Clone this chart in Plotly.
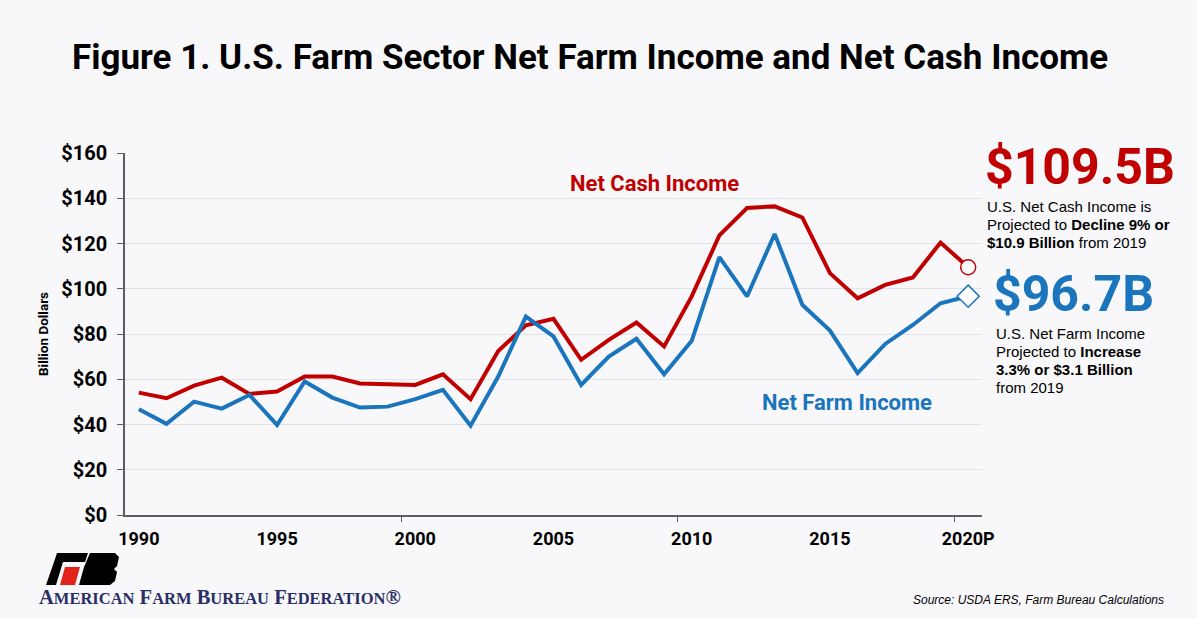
import plotly.graph_objects as go

years = list(range(1990, 2021))
net_cash_income = [54.1, 51.6, 57.2, 60.7, 53.5, 54.6, 61.2, 61.2, 58.1, 57.8,
                   57.5, 62.2, 51.2, 72.5, 83.8, 86.7, 68.6, 77.4, 85.1, 74.5,
                   96.6, 123.6, 135.7, 136.4, 131.5, 106.9, 95.8, 101.7, 105.0, 120.4,
                   109.5]
net_farm_income = [46.7, 40.3, 50.1, 47.0, 53.1, 39.8, 59.0, 51.9, 47.5, 47.9,
                   51.2, 55.3, 39.5, 61.2, 87.7, 78.9, 57.5, 70.0, 77.9, 62.2,
                   77.0, 114.0, 96.6, 124.2, 92.9, 81.5, 62.7, 75.6, 84.0, 93.6,
                   96.7]
x_tickvals = [1990, 1995, 2000, 2005, 2010, 2015, 2020]
x_ticktext = ["1990", "1995", "2000", "2005", "2010", "2015", "2020P"]
y_tickvals = [0, 20, 40, 60, 80, 100, 120, 140, 160]
y_ticktext = ["$0", "$20", "$40", "$60", "$80", "$100", "$120", "$140", "$160"]

RED = "#C00000"
BLUE = "#1B75BC"
BG = "#F8F8FA"

fig = go.Figure()
fig.add_trace(go.Scatter(x=years, y=net_cash_income, mode="lines",
                         line=dict(color=RED, width=4), hoverinfo="skip"))
fig.add_trace(go.Scatter(x=years, y=net_farm_income, mode="lines",
                         line=dict(color=BLUE, width=4), hoverinfo="skip"))
fig.add_trace(go.Scatter(x=years[-1:], y=net_cash_income[-1:], mode="markers",
                         marker=dict(symbol="circle", size=15, color="white",
                                     line=dict(color=RED, width=1.5))))
fig.add_trace(go.Scatter(x=years[-1:], y=net_farm_income[-1:], mode="markers",
                         marker=dict(symbol="diamond", size=17, color="white",
                                     line=dict(color=BLUE, width=1.5))))

fig.update_layout(
    width=1197, height=618,
    margin=dict(l=125, r=215, t=153, b=103),
    paper_bgcolor=BG, plot_bgcolor=BG,
    showlegend=False,
    font=dict(family="Roboto", color="black"),
    xaxis=dict(range=[1989.5, 2020.5], tickvals=x_tickvals, ticktext=x_ticktext,
               showgrid=False, zeroline=False, showline=True, linecolor="#5A5F66",
               linewidth=1.5, ticks="", ticklabelstandoff=7,
               tickfont=dict(family="Roboto", size=18, color="black", weight="bold"),
               minor=dict(tickvals=[1999.5, 2009.5, 2019.5], ticks="outside",
                          ticklen=5, tickcolor="#5A5F66", showgrid=False)),
    yaxis=dict(range=[0, 160], tickvals=y_tickvals, ticktext=y_ticktext,
               showgrid=True, gridcolor="#E2E3E6", gridwidth=1,
               zeroline=False, showline=True, linecolor="#5A5F66", linewidth=1.5,
               ticks="outside", ticklen=6, tickcolor="#5A5F66", ticklabelstandoff=6,
               tickfont=dict(family="Roboto", size=20, color="black", weight="bold"),
               title=dict(text="Billion Dollars", standoff=10,
                          font=dict(family="Roboto", size=13.5, color="black", weight="bold"))),
)


def px(x):
    return (x - 125) / 857


def py(y):
    return (515 - y) / 362


ann = []


def add_text(text, x, y, size, color="black", family="Roboto", xanchor="left"):
    ann.append(dict(text=text, xref="paper", yref="paper", x=px(x), y=py(y),
                    xanchor=xanchor, yanchor="middle", showarrow=False, align="left",
                    font=dict(family=family, size=size, color=color)))


add_text("<b>Figure 1. U.S. Farm Sector Net Farm Income and Net Cash Income</b>",
         590, 57, 35, xanchor="center")
add_text("<b>Net Cash Income</b>", 654, 184, 22, RED, xanchor="center")
add_text("<b>Net Farm Income</b>", 847, 402, 22, BLUE, xanchor="center")

add_text("<b>$109.5B</b>", 983, 167, 50, RED)
add_text("U.S. Net Cash Income is", 985, 206, 15, family="Liberation Sans")
add_text("Projected to <b>Decline 9% or</b>", 985, 224, 15, family="Liberation Sans")
add_text("<b>$10.9 Billion</b> from 2019", 985, 242, 15, family="Liberation Sans")

add_text("<b>$96.7B</b>", 991, 294, 50, BLUE)
add_text("U.S. Net Farm Income", 994, 333, 15, family="Liberation Sans")
add_text("Projected to <b>Increase</b>", 994, 351, 15, family="Liberation Sans")
add_text("<b>3.3% or $3.1 Billion</b>", 994, 369, 15, family="Liberation Sans")
add_text("from 2019", 994, 387, 15, family="Liberation Sans")

add_text("<i>Source: USDA ERS, Farm Bureau Calculations</i>", 1166, 600, 12,
         family="Liberation Sans Narrow, Liberation Sans", xanchor="right")
add_text("<b>A<span style='font-size:16.5px'>MERICAN</span> F<span style='font-size:16.5px'>ARM</span> "
         "B<span style='font-size:16.5px'>UREAU</span> F<span style='font-size:16.5px'>EDERATION</span>®</b>",
         37, 597, 20.5, "#2A2E66", family="Liberation Serif")
fig.update_layout(annotations=ann)


# Farm Bureau logo approximation (paper coordinates)
def path(points):
    return "M " + " L ".join(f"{px(a):.5f},{py(b):.5f}" for a, b in points) + " Z"


shapes = [
    dict(type="path", path=path([(57, 553), (88, 553), (85, 562), (54, 562)]),
         fillcolor="black", line=dict(width=0)),
    dict(type="path", path=path([(54, 562), (63, 562), (56, 585), (46, 585)]),
         fillcolor="black", line=dict(width=0)),
    dict(type="path", path=path([(65, 567), (80, 567), (75, 585), (60, 585)]),
         fillcolor="#E2231A", line=dict(width=0)),
    dict(type="path", path=path([(90, 553), (115, 553), (119, 557), (117, 566), (114, 569),
                                  (117, 572), (115, 581), (110, 585), (79, 585), (84, 567)]),
         fillcolor="black", line=dict(width=0)),
]
for s in shapes:
    s.update(xref="paper", yref="paper", layer="above")
fig.update_layout(shapes=shapes)

fig.write_html("out.html", config={"displayModeBar": False},
               post_script="document.body.style.margin='0';document.body.style.overflow='hidden';")
